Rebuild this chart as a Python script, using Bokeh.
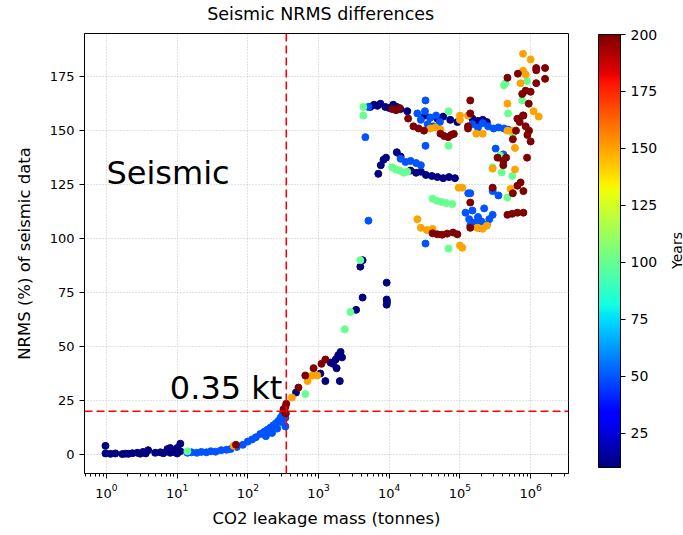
import numpy as np
from bokeh.plotting import figure
from bokeh.layouts import row, column
from bokeh.models import (ColumnDataSource, LinearColorMapper, ColorBar, FixedTicker,
                          Span, Label)
from bokeh.embed import file_html
from bokeh.resources import INLINE

# ---- data: CO2 leakage mass (tonnes) vs NRMS (%) grouped by simulation year ----
mass_y10 = [0.97, 0.97, 1.14, 1.34, 1.68, 1.86, 2.05, 2.33, 2.74, 3.0, 3.3, 3.6, 3.9, 4.9, 5.8, 6.4,
            7.3, 8.0, 8.0, 8.9, 10, 10, 11.1, 11.1,
            480, 1060, 1250, 1480, 1600, 1750, 1900, 2050, 2150, 1800, 2000, 3400, 4200, 3900, 4200,
            9200, 9200, 9200, 9300,
            5400, 6100, 6800, 7500, 8800, 10000, 11400, 12800, 14400, 18000, 32000, 38000, 48000,
            58000, 73000, 92000, 1.5e5, 1.8e5, 2.1e5, 2.4e5,
            7000, 7600, 8300, 9000, 12800, 14500, 20000, 24000, 28000, 33000, 40000, 48000, 58000,
            70000, 85000]
nrms_y10 = [4.0, 0.5, 0.3, 0.5, 0.2, 0.4, 0.3, 0.6, 0.8, 0.4, 1.2, 0.5, 2.0, 0.8, 1.0, 0.6,
            2.5, 3.0, 0.8, 1.2, 0.5, 3.0, 5.0, 1.5,
            28.7, 37.5, 34, 42.6, 42, 44, 46, 47.5, 45, 40, 34, 67, 72.7, 87, 90,
            79.6, 71.8, 69.4, 70.7,
            161, 162, 161.5, 162.5, 161, 160.5, 162, 161, 160, 159, 157, 156, 155.5,
            156.5, 155, 154, 155.6, 154.5, 155, 154,
            130, 134, 136.5, 137.5, 140, 138, 131.5, 130.5, 131, 129.5, 129, 128.5, 128,
            128.5, 128]

mass_y50 = [14, 16, 19, 22, 26, 30, 35, 42, 50, 57, 70, 85, 100, 115, 130, 150, 170, 190, 210,
            230, 250, 270, 290, 310, 330, 340, 180, 220, 260, 300, 330, 340,
            4600, 5080, 32600, 25000, 28000, 32000, 35000, 38000, 42000, 46000, 52000, 32600,
            1.5e5, 1.8e5, 2.1e5, 2.5e5, 3.0e5, 3.5e5, 4.2e5, 4.8e5,
            14500, 17000, 20000, 24000, 28000,
            5080, 32600,
            1.2e5, 1.35e5, 1.5e5, 1.65e5, 1.8e5, 2.0e5, 2.2e5, 2.4e5, 2.6e5, 2.9e5, 1.4e5, 2.0e5,
            1.31e5, 2.9e5, 2.9e5, 3.5e5, 3.2e5, 4.1e5, 1.4e5]
nrms_y50 = [0.8, 1.0, 0.8, 1.2, 1.0, 1.5, 1.3, 2.0, 2.2, 2.5, 3.5, 4.5, 6.0, 7.0, 8.0, 9.5, 10.5,
            11.5, 12.5, 13.5, 14.5, 15.5, 17.0, 18.5, 20.0, 17.0, 8.5, 10.0, 12.0, 15.0, 17.5, 13.0,
            147, 161, 164, 158, 155, 159, 153, 156, 152, 157, 154, 143,
            153, 151.5, 153.5, 152, 151, 151.5, 151, 150.5,
            137, 135.5, 136, 135, 134,
            108.3, 97.7,
            112, 109, 113, 107.5, 110, 108, 114, 106.5, 109, 111, 106, 104.8,
            121, 122, 123, 120, 141.7, 139, 121]

mass_y100 = [14, 650, 2350, 2820, 3900, 4300, 4300, 69000, 69000, 11000, 12500, 14000, 16000,
             18000, 41000, 47000, 55000, 64000, 78000, 69000, 5.6e5, 4.2e5, 4.8e5, 3.7e5, 2.9e5,
             3.9e5, 5.5e5, 4.7e5, 7.6e5, 8.9e5, 4.4e5]
nrms_y100 = [1.5, 28, 58, 66, 90, 161, 157, 159, 143, 133, 132, 131.5, 130.5,
             131, 118.5, 117.5, 117, 116.5, 116, 95.4, 148.6, 171, 158, 138.5, 133,
             130.6, 129, 119, 164, 173, 172]

mass_y150 = [63, 420, 700, 820, 960, 38000, 45000, 53000, 1.0e5, 1.7e5, 2.1e5, 4.7e5, 5.6e5,
             6.0e5, 1.0e5, 1.3e5, 7.8e5, 1.0e6, 7.8e5, 7.2e5, 4.7e5, 1.1e6, 1.3e6, 8.5e5, 5.2e5,
             2.9e5, 6.0e5, 1.8e5, 2.1e5, 2.4e5, 1.08e5, 1.08e5, 9.6e4, 25000, 28000, 34000,
             41000, 1.75e5, 1.0e5]
nrms_y150 = [4.0, 26.4, 34, 36.6, 36.6, 151, 151.5, 150.5, 157, 148.6, 148.6, 150, 150,
             142, 155, 157, 185.6, 183, 177.8, 172, 162.5, 159, 156.5, 176, 123,
             132.4, 132, 105, 104.6, 106, 123.6, 95.8, 123.6, 109, 105, 104,
             104.5, 105, 96.8]

mass_y200 = [68, 320, 330, 340, 345, 350, 520, 650, 850, 1100, 1250,
             11000, 12500, 14000, 18500, 22000, 26000, 31000, 53000, 60000, 68000, 75000, 82000,
             1.3e5, 1.3e5, 1.4e5, 1.4e5,
             5.6e5, 6.2e5, 7.0e5, 7.8e5, 8.5e5, 9.0e5, 1.0e6, 9.5e5, 6.5e5,
             6.6e5, 1.2e6, 1.2e6, 1.6e6, 1.6e6, 1.2e6, 4.7e5, 7.6e5, 8.5e5, 1.0e6, 9.4e5, 7.9e5,
             8.9e5,
             3.4e5, 4.1e5, 4.1e5, 4.5e5, 7.2e5, 5.6e5, 6.5e5, 7.9e5, 2.9e5, 1.4e5, 4.7e5, 5.5e5,
             6.5e5, 7.9e5, 1.4e5,
             41000, 48000, 56000, 66000, 80000, 92000]
nrms_y200 = [4.5, 21, 20, 22, 19, 23.5, 31, 36.6, 40, 42, 44,
             160, 159.5, 160.5, 155.6, 152, 151, 150, 148.6, 147.5, 147, 148, 148.5,
             151, 152, 164, 158,
             146, 150, 154, 157, 152, 148, 145, 150, 155.5,
             176.4, 178, 179, 179, 174, 172, 174.5, 167, 168.5, 168, 162.5, 157,
             137.5,
             137.5, 134, 136, 137.5, 126, 121, 124.5, 122, 123.6, 116.7, 111, 111.5,
             112, 112, 105,
             102.5, 102, 101.8, 102.3, 102.8, 102]

years = [10, 50, 100, 150, 200]
groups = [(mass_y10, nrms_y10), (mass_y50, nrms_y50), (mass_y100, nrms_y100),
          (mass_y150, nrms_y150), (mass_y200, nrms_y200)]

year_min, year_max = 10, 200
threshold_mass = 350      # tonnes (0.35 kt)
threshold_nrms = 20       # percent
y_ticks = [0, 25, 50, 75, 100, 125, 150, 175]
cbar_ticks = [25, 50, 75, 100, 125, 150, 175, 200]


def jet(n=256):
    t = np.linspace(0, 1, n)
    r = np.interp(t, [0, 0.35, 0.66, 0.89, 1], [0, 0, 1, 1, 0.5])
    g = np.interp(t, [0, 0.125, 0.375, 0.64, 0.91, 1], [0, 0, 1, 1, 0, 0])
    b = np.interp(t, [0, 0.11, 0.34, 0.65, 1], [0.5, 1, 1, 0, 0])
    return ["#%02x%02x%02x" % (int(round(a * 255)), int(round(c * 255)), int(round(d * 255)))
            for a, c, d in zip(r, g, b)]


xs, ys, yrs = [], [], []
for yr, (m, n) in zip(years, groups):
    xs += m
    ys += n
    yrs += [yr] * len(m)
source = ColumnDataSource(dict(mass=xs, nrms=ys, year=yrs))

mapper = LinearColorMapper(palette=jet(), low=year_min, high=year_max)

FONT = "DejaVu Sans"
TOTAL_W, TOTAL_H = 683, 535
HEAD_H = 24          # strip holding the title
CAPTION_W = 15       # strip holding the colour bar caption
MAIN_W = TOTAL_W - CAPTION_W
BODY_H = TOTAL_H - HEAD_H


def strip(w, h):
    f = figure(width=w, height=h, x_range=(0, w), y_range=(0, h),
               output_backend="svg", toolbar_location=None, min_border=0,
               outline_line_color=None)
    f.axis.visible = False
    f.grid.visible = False
    return f


# title strip
head = strip(MAIN_W, HEAD_H)
head.add_layout(Label(x=326, y=HEAD_H - 13, text="Seismic NRMS differences",
                      text_font=FONT, text_font_size="17.5px", text_color="black",
                      text_align="center", text_baseline="middle"))

# main scatter panel
p = figure(width=MAIN_W, height=BODY_H, x_axis_type="log",
           x_range=(0.49, 3.43e6), y_range=(-8.8, 195),
           output_backend="svg", toolbar_location=None,
           min_border_left=84, min_border_right=100, min_border_top=9, min_border_bottom=62)

p.outline_line_color = "black"
p.outline_line_width = 1
p.background_fill_color = "white"

decades = [10.0 ** k for k in range(0, 7)]
minor = [m * 10.0 ** k for k in range(-1, 7) for m in range(2, 10)]
p.xaxis.ticker = FixedTicker(ticks=decades, minor_ticks=minor)
p.yaxis.ticker = FixedTicker(ticks=y_ticks)
for ax in (p.xaxis[0], p.yaxis[0]):
    ax.axis_line_color = "black"
    ax.major_tick_line_color = "black"
    ax.minor_tick_line_color = "black"
    ax.major_tick_in = 0
    ax.major_tick_out = 5
    ax.minor_tick_in = 0
    ax.minor_tick_out = 3
    ax.major_label_text_font = FONT
    ax.major_label_text_font_size = "13px"
    ax.major_label_text_color = "black"
    ax.axis_label_text_font = FONT
    ax.axis_label_text_font_size = "16.5px"
    ax.axis_label_text_font_style = "normal"
    ax.axis_label_text_color = "black"
p.yaxis.minor_tick_line_color = None
p.xaxis.axis_label = "CO2 leakage mass (tonnes)"
p.yaxis.axis_label = "NRMS (%) of seismic data"
p.xaxis.axis_label_standoff = 8
p.yaxis.axis_label_standoff = 13

p.grid.grid_line_color = "#c4c4c4"
p.grid.grid_line_dash = "1 2"
p.grid.grid_line_width = 1

# scatter coloured by year
p.scatter("mass", "nrms", source=source, size=7,
          fill_color={"field": "year", "transform": mapper},
          line_color={"field": "year", "transform": mapper})

# threshold lines
p.add_layout(Span(location=threshold_mass, dimension="height", line_color="red",
                  line_dash="8 4", line_width=1.6))
p.add_layout(Span(location=threshold_nrms, dimension="width", line_color="red",
                  line_dash="8 4", line_width=1.6))

# annotations
p.add_layout(Label(x=1, y=130.5, text="Seismic", text_font=FONT, text_font_size="32px",
                   text_color="black", text_baseline="alphabetic"))
p.add_layout(Label(x=308, y=31, text="0.35 kt", text_font=FONT, text_font_size="32px",
                   text_color="black", text_align="right", text_baseline="alphabetic"))

# colour bar
cbar = ColorBar(color_mapper=mapper, ticker=FixedTicker(ticks=cbar_ticks),
                width=22, height=433, location=(514, 6), padding=0, margin=0,
                major_tick_in=0, major_tick_out=5, major_tick_line_color="black",
                minor_tick_line_color=None, bar_line_color="black", bar_line_width=1,
                major_label_text_font=FONT, major_label_text_font_size="14px",
                major_label_text_color="black", label_standoff=5,
                background_fill_alpha=0, border_line_color=None)
p.add_layout(cbar)

# colour bar caption strip (full height)
cap = strip(CAPTION_W, TOTAL_H)
cap.add_layout(Label(x=CAPTION_W / 2 + 0.5, y=TOTAL_H - 250, text="Years", angle=np.pi / 2,
                     text_font=FONT, text_font_size="14px", text_color="black",
                     text_align="center", text_baseline="middle"))

layout = row(column(head, p, spacing=0), cap, spacing=0)
open("out.html", "w").write(file_html(layout, INLINE))
